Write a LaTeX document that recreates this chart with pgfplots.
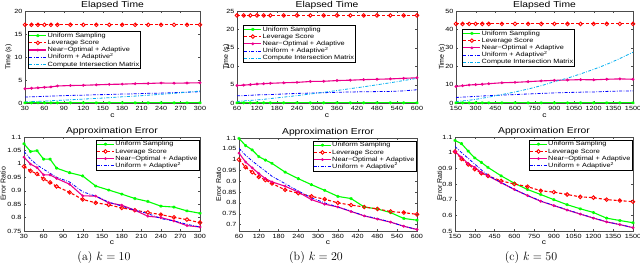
\documentclass[border=0pt]{standalone}
\usepackage{fontspec}
\usepackage{pgfplots}
\pgfplotsset{compat=1.18}
\newfontfamily\hv[FakeStretch=1.2]{Liberation Sans}
\newfontfamily\hvn{Liberation Sans}
\pgfplotsset{
  mystyle/.style={
    scale only axis,
    axis line style={black!70},
    tick style={black!70},
    major tick length=2pt,
    tick align=inside,
    ticklabel style={font=\hv\fontsize{6}{7}\selectfont},
    yticklabel style={xshift=0.8pt},
    /pgf/number format/assume math mode=true,
    /pgf/number format/1000 sep={},
    title style={font=\hv\fontsize{8.6}{9}\selectfont, at={(0.5,1)}, anchor=base, yshift=-2.6pt},
    xlabel style={font=\hv\fontsize{7}{8}\selectfont, anchor=center},
    ylabel style={font=\hvn\fontsize{7}{8}\selectfont, anchor=center},
    legend cell align=left,
    legend style={font=\hv\fontsize{6.1}{7}\selectfont, draw=black, line width=0.4pt,
      inner sep=0.6pt, nodes={inner sep=0.7pt, text height=4.6pt, text depth=1.2pt}},
  },
  unif/.style={color=green, solid, line width=1.1pt, mark=asterisk, mark size=1.5pt, mark options={solid, line width=0.9pt}},
  lev/.style={color=red, dash pattern=on 3pt off 2pt, line width=1.1pt, mark=o, mark size=1.8pt, mark options={solid, line width=0.9pt}},
  near/.style={color=magenta, solid, line width=1.1pt, mark=*, mark size=0.8pt},
  ua/.style={color=blue, dash pattern=on 3pt off 1.5pt on 0.8pt off 1.5pt, line width=0.8pt},
  cim/.style={color=cyan, dash pattern=on 3pt off 1.5pt on 0.8pt off 1.5pt, line width=0.8pt},
}
\begin{document}
\begin{tikzpicture}
\path[use as bounding box] (0pt,0pt) rectangle (640pt,269pt);
% ---------- (a) time
\begin{axis}[mystyle, at={(25pt,166pt)}, anchor=south west, width=175pt, height=92pt,
  xmin=30, xmax=300, ymin=0, ymax=20, xtick={30,60,...,300}, ytick={0,5,10,15,20},
  title={Elapsed Time}, xlabel={c}, ylabel={Time (s)},
  xlabel style={at={(axis description cs:0.5,-0.14)}},
  ylabel style={at={(axis description cs:-0.094,0.5)}},
  legend style={at={(axis description cs:0.017,0.78)}, anchor=north west}]
\addplot[unif] coordinates {(30,0.05)(40,0.05)(50,0.05)(60,0.05)(70,0.05)(80,0.05)(100,0.05)(120,0.05)(140,0.05)(160,0.05)(180,0.05)(200,0.05)(220,0.05)(240,0.05)(260,0.05)(280,0.05)(300,0.05)};
\addplot[lev] coordinates {(30,17)(40,17)(50,17)(60,17)(70,17)(80,17)(100,17)(120,17)(140,17)(160,17)(180,17)(200,17)(220,17)(240,17)(260,17)(280,17)(300,17)};
\addplot[near] coordinates {(30,3.1)(40,3.2)(50,3.3)(60,3.4)(70,3.5)(80,3.7)(100,3.8)(120,3.85)(140,3.95)(160,4.05)(180,4.1)(200,4.2)(220,4.25)(240,4.35)(260,4.3)(280,4.35)(300,4.4)};
\addplot[ua] coordinates {(30,1.3)(40,1.35)(50,1.4)(60,1.45)(70,1.5)(80,1.55)(100,1.65)(120,1.7)(140,1.8)(160,1.85)(180,1.95)(200,2.0)(220,2.1)(240,2.15)(260,2.25)(280,2.35)(300,2.45)};
\addplot[cim] coordinates {(30,0.25)(40,0.3)(50,0.35)(60,0.4)(70,0.5)(80,0.55)(100,0.7)(120,0.85)(140,1.0)(160,1.15)(180,1.35)(200,1.5)(220,1.7)(240,1.9)(260,2.1)(280,2.35)(300,2.6)};
\legend{Uniform Sampling, Leverage Score, Near−Optimal + Adaptive, Uniform + Adaptive\textsuperscript{2}, Compute Intersection Matrix}
\end{axis}
% ---------- (b) time
\begin{axis}[mystyle, at={(237pt,166pt)}, anchor=south west, width=180pt, height=92pt,
  xmin=60, xmax=600, ymin=0, ymax=25, xtick={60,120,...,600}, ytick={0,5,10,15,20,25},
  title={Elapsed Time}, xlabel={c}, ylabel={Time (s)},
  xlabel style={at={(axis description cs:0.5,-0.14)}},
  ylabel style={at={(axis description cs:-0.06,0.5)}},
  legend style={at={(axis description cs:0.033,0.848)}, anchor=north west}]
\addplot[unif] coordinates {(60,0.05)(80,0.05)(100,0.05)(120,0.05)(140,0.05)(160,0.05)(200,0.05)(240,0.05)(280,0.05)(320,0.05)(360,0.05)(400,0.05)(440,0.05)(480,0.05)(520,0.05)(560,0.05)(600,0.05)};
\addplot[lev] coordinates {(60,23.8)(80,23.8)(100,23.8)(120,23.8)(140,23.8)(160,23.8)(200,23.8)(240,23.8)(280,23.8)(320,23.8)(360,23.8)(400,23.8)(440,23.8)(480,23.8)(520,23.8)(560,23.8)(600,23.8)};
\addplot[near] coordinates {(60,4.75)(80,4.85)(100,5.0)(120,5.15)(140,5.25)(160,5.35)(200,5.5)(240,5.6)(280,5.85)(320,5.9)(360,6.1)(400,6.2)(440,6.35)(480,6.45)(520,6.55)(560,6.7)(600,6.85)};
\addplot[ua] coordinates {(60,1.95)(80,2.0)(100,2.1)(120,2.2)(140,2.25)(160,2.3)(200,2.45)(240,2.6)(280,2.7)(320,2.8)(360,2.9)(400,3.0)(440,3.05)(480,3.1)(520,3.15)(560,3.3)(600,3.6)};
\addplot[cim] coordinates {(60,0.4)(80,0.55)(100,0.7)(120,0.85)(140,1.0)(160,1.2)(200,1.6)(240,2.0)(280,2.45)(320,2.9)(360,3.4)(400,3.9)(440,4.4)(480,4.95)(520,5.5)(560,6.1)(600,6.7)};
\legend{Uniform Sampling, Leverage Score, Near−Optimal + Adaptive, Uniform + Adaptive\textsuperscript{2}, Compute Intersection Matrix}
\end{axis}
% ---------- (c) time
\begin{axis}[mystyle, at={(456pt,166pt)}, anchor=south west, width=177pt, height=92pt,
  xmin=150, xmax=1500, ymin=0, ymax=50, xtick={150,300,...,1500}, ytick={0,10,20,30,40,50},
  title={Elapsed Time}, xlabel={c}, ylabel={Time (s)},
  xlabel style={at={(axis description cs:0.5,-0.14)}},
  ylabel style={at={(axis description cs:-0.079,0.5)}},
  legend style={at={(axis description cs:0.034,0.804)}, anchor=north west}]
\addplot[unif] coordinates {(150,0.1)(200,0.1)(250,0.1)(300,0.1)(350,0.1)(400,0.1)(500,0.1)(600,0.1)(700,0.1)(800,0.1)(900,0.1)(1000,0.1)(1100,0.1)(1200,0.1)(1300,0.1)(1400,0.1)(1500,0.1)};
\addplot[lev] coordinates {(150,43)(200,43)(250,43)(300,43)(350,43)(400,43)(500,43)(600,43)(700,43)(800,43)(900,43)(1000,43)(1100,43)(1200,43)(1300,43)(1400,43)(1500,43)};
\addplot[near] coordinates {(150,9.0)(200,9.4)(250,9.8)(300,10.0)(350,10.2)(400,10.5)(500,11.0)(600,11.2)(700,11.6)(800,12.0)(900,12.3)(1000,12.5)(1100,12.7)(1200,12.6)(1300,12.9)(1400,13.1)(1500,12.9)};
\addplot[ua] coordinates {(150,3.0)(200,3.2)(250,3.4)(300,3.6)(350,3.8)(400,4.0)(500,4.3)(600,4.6)(700,4.9)(800,5.2)(900,5.5)(1000,5.7)(1100,5.9)(1200,6.0)(1300,6.3)(1400,6.5)(1500,6.6)};
\addplot[cim] coordinates {(150,0.8)(200,1.1)(250,1.5)(300,2.0)(350,2.6)(400,3.2)(500,4.6)(600,6.0)(700,7.6)(800,9.4)(900,11.6)(1000,13.5)(1100,15.8)(1200,18.3)(1300,21.0)(1400,24.2)(1500,27.6)};
\legend{Uniform Sampling, Leverage Score, Near−Optimal + Adaptive, Uniform + Adaptive\textsuperscript{2}, Compute Intersection Matrix}
\end{axis}
% ---------- (a) error
\begin{axis}[mystyle, at={(24pt,38pt)}, anchor=south west, width=176pt, height=94pt,
  xmin=30, xmax=300, ymin=0.75, ymax=1.1, xtick={30,60,...,300}, ytick={0.75,0.8,0.85,0.9,0.95,1,1.05,1.1},
  title={Approximation Error}, xlabel={c}, ylabel={Error Ratio},
  xlabel style={at={(axis description cs:0.5,-0.12)}},
  ylabel style={at={(axis description cs:-0.118,0.5)}},
  legend style={at={(axis description cs:0.994,0.97)}, anchor=north east}]
\addplot[unif] coordinates {(30,1.075)(40,1.046)(50,1.049)(60,1.0175)(70,1.0175)(80,0.984)(100,0.967)(120,0.955)(140,0.9175)(160,0.9025)(180,0.8875)(200,0.871)(220,0.86)(240,0.8425)(260,0.839)(280,0.825)(300,0.816)};
\addplot[lev] coordinates {(30,0.99)(40,0.974)(50,0.9625)(60,0.944)(70,0.931)(80,0.916)(100,0.894)(120,0.8675)(140,0.855)(160,0.8475)(180,0.836)(200,0.8275)(220,0.819)(240,0.811)(260,0.801)(280,0.7925)(300,0.781)};
\addplot[near] coordinates {(30,1.025)(40,0.999)(50,0.986)(60,0.959)(70,0.959)(80,0.946)(100,0.924)(120,0.881)(140,0.88)(160,0.855)(180,0.846)(200,0.8275)(220,0.805)(240,0.80)(260,0.7875)(280,0.77)(300,0.765)};
\addplot[ua] coordinates {(30,1.046)(40,1.0175)(50,0.996)(60,0.98)(70,0.965)(80,0.95)(100,0.9325)(120,0.896)(140,0.88)(160,0.8575)(180,0.8425)(200,0.8275)(220,0.815)(240,0.796)(260,0.7875)(280,0.775)(300,0.765)};
\legend{Uniform Sampling, Leverage Score, Near−Optimal + Adaptive, Uniform + Adaptive\textsuperscript{2}}
\end{axis}
% ---------- (b) error
\begin{axis}[mystyle, at={(239pt,38pt)}, anchor=south west, width=178pt, height=93pt,
  xmin=60, xmax=600, ymin=0.67, ymax=1.1, xtick={60,120,...,600}, ytick={0.7,0.75,0.8,0.85,0.9,0.95,1,1.05,1.1},
  title={Approximation Error}, xlabel={c}, ylabel={Error Ratio},
  xlabel style={at={(axis description cs:0.5,-0.12)}},
  ylabel style={at={(axis description cs:-0.115,0.5)}},
  legend style={at={(axis description cs:0.994,0.97)}, anchor=north east}]
\addplot[unif] coordinates {(60,1.098)(80,1.065)(100,1.045)(120,1.014)(140,0.998)(160,0.983)(200,0.942)(240,0.912)(280,0.884)(320,0.858)(360,0.83)(400,0.82)(440,0.781)(480,0.772)(520,0.755)(560,0.728)(600,0.72)};
\addplot[lev] coordinates {(60,1.0)(80,0.965)(100,0.942)(120,0.92)(140,0.906)(160,0.89)(200,0.86)(240,0.845)(280,0.83)(320,0.817)(360,0.8)(400,0.79)(440,0.781)(480,0.772)(520,0.76)(560,0.755)(600,0.747)};
\addplot[near] coordinates {(60,1.03)(80,0.989)(100,0.962)(120,0.936)(140,0.912)(160,0.897)(200,0.877)(240,0.85)(280,0.815)(320,0.794)(360,0.781)(400,0.76)(440,0.74)(480,0.725)(520,0.711)(560,0.692)(600,0.677)};
\addplot[ua] coordinates {(60,1.052)(80,1.02)(100,0.994)(120,0.97)(140,0.947)(160,0.923)(200,0.889)(240,0.855)(280,0.823)(320,0.8)(360,0.781)(400,0.762)(440,0.74)(480,0.728)(520,0.711)(560,0.692)(600,0.677)};
\legend{Uniform Sampling, Leverage Score, Near−Optimal + Adaptive, Uniform + Adaptive\textsuperscript{2}}
\end{axis}
% ---------- (c) error
\begin{axis}[mystyle, at={(455pt,38pt)}, anchor=south west, width=178pt, height=94pt,
  xmin=150, xmax=1500, ymin=0.5, ymax=1.1, xtick={150,300,...,1500}, ytick={0.5,0.6,0.7,0.8,0.9,1,1.1},
  title={Approximation Error}, xlabel={c}, ylabel={Error Ratio},
  xlabel style={at={(axis description cs:0.5,-0.12)}},
  ylabel style={at={(axis description cs:-0.086,0.5)}},
  legend style={at={(axis description cs:0.994,0.97)}, anchor=north east}]
\addplot[unif] coordinates {(150,1.078)(200,1.057)(250,1.01)(300,0.966)(350,0.938)(400,0.906)(500,0.852)(600,0.805)(700,0.765)(800,0.733)(900,0.70)(1000,0.668)(1100,0.642)(1200,0.618)(1300,0.582)(1400,0.567)(1500,0.553)};
\addplot[lev] coordinates {(150,1.007)(200,0.96)(250,0.925)(300,0.895)(350,0.869)(400,0.852)(500,0.82)(600,0.80)(700,0.783)(800,0.757)(900,0.748)(1000,0.733)(1100,0.718)(1200,0.713)(1300,0.70)(1400,0.694)(1500,0.687)};
\addplot[near] coordinates {(150,1.007)(200,0.97)(250,0.93)(300,0.906)(350,0.873)(400,0.852)(500,0.808)(600,0.765)(700,0.726)(800,0.69)(900,0.662)(1000,0.634)(1100,0.608)(1200,0.582)(1300,0.558)(1400,0.541)(1500,0.521)};
\addplot[ua] coordinates {(150,1.04)(200,1.0)(250,0.964)(300,0.927)(350,0.89)(400,0.856)(500,0.81)(600,0.766)(700,0.727)(800,0.692)(900,0.663)(1000,0.636)(1100,0.609)(1200,0.584)(1300,0.559)(1400,0.541)(1500,0.522)};
\legend{Uniform Sampling, Leverage Score, Near−Optimal + Adaptive, Uniform + Adaptive\textsuperscript{2}}
\end{axis}
% captions
\node[font=\fontsize{12}{13}\selectfont] at (104pt,11pt) {(a) $k=10$};
\node[font=\fontsize{12}{13}\selectfont] at (316pt,11pt) {(b) $k=20$};
\node[font=\fontsize{12}{13}\selectfont] at (531pt,11pt) {(c) $k=50$};
\end{tikzpicture}
\end{document}
